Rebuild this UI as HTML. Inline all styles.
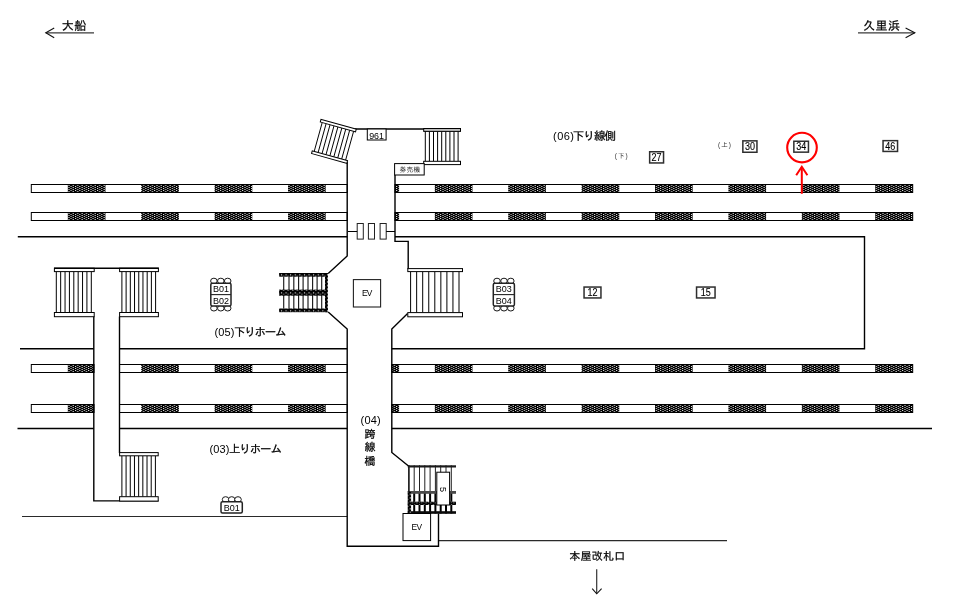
<!DOCTYPE html>
<html lang="ja">
<head>
<meta charset="utf-8">
<title>構内図</title>
<style>
html,body{margin:0;padding:0;background:#fff;}
body{width:960px;height:605px;overflow:hidden;font-family:"Liberation Sans", "IPAGothic", "Noto Sans CJK JP", sans-serif;}
svg{display:block;will-change:transform;}
svg text{font-family:"Liberation Sans", "IPAGothic", "Noto Sans CJK JP", sans-serif;}
</style>
</head>
<body>
<svg width="960" height="605" viewBox="0 0 960 605">
<defs>
<pattern id="dots" x="67.9" y="185" width="4.4" height="2" patternUnits="userSpaceOnUse">
<rect x="0" y="0" width="4.4" height="2" fill="#000"/>
<rect x="0.5" y="0" width="1.0" height="1" fill="#fff"/>
<rect x="2.7" y="1" width="1.0" height="1" fill="#fff"/>
</pattern>
<pattern id="dots2" x="279.1" y="273" width="4.6" height="3.6" patternUnits="userSpaceOnUse">
<rect x="0" y="0" width="4.6" height="3.6" fill="#000"/>
<rect x="1.8" y="1.2" width="1.1" height="1.1" fill="#fff"/>
<rect x="4.0" y="2.6" width="0.6" height="0.8" fill="#eee"/>
<rect x="0" y="2.6" width="0.4" height="0.8" fill="#eee"/>
</pattern>
</defs>
<rect x="0" y="0" width="960" height="605" fill="#fff"/>

<rect x="31.3" y="184.5" width="315.9" height="8.0" fill="#fff"/>
<rect x="67.8" y="184.5" width="37.7" height="8.0" fill="url(#dots)"/>
<rect x="141.2" y="184.5" width="37.7" height="8.0" fill="url(#dots)"/>
<rect x="214.6" y="184.5" width="37.7" height="8.0" fill="url(#dots)"/>
<rect x="288.0" y="184.5" width="37.7" height="8.0" fill="url(#dots)"/>
<rect x="31.3" y="184.5" width="315.9" height="8.0" fill="none" stroke="#000" stroke-width="1"/>
<rect x="395" y="184.5" width="517.7" height="8.0" fill="#fff"/>
<rect x="395" y="184.5" width="4.1" height="8.0" fill="url(#dots)"/>
<rect x="434.8" y="184.5" width="37.7" height="8.0" fill="url(#dots)"/>
<rect x="508.2" y="184.5" width="37.7" height="8.0" fill="url(#dots)"/>
<rect x="581.6" y="184.5" width="37.7" height="8.0" fill="url(#dots)"/>
<rect x="655.0" y="184.5" width="37.7" height="8.0" fill="url(#dots)"/>
<rect x="728.4" y="184.5" width="37.7" height="8.0" fill="url(#dots)"/>
<rect x="801.8" y="184.5" width="37.7" height="8.0" fill="url(#dots)"/>
<rect x="875.2" y="184.5" width="37.5" height="8.0" fill="url(#dots)"/>
<rect x="395" y="184.5" width="517.7" height="8.0" fill="none" stroke="#000" stroke-width="1"/>
<rect x="31.3" y="212.5" width="315.9" height="8.0" fill="#fff"/>
<rect x="67.8" y="212.5" width="37.7" height="8.0" fill="url(#dots)"/>
<rect x="141.2" y="212.5" width="37.7" height="8.0" fill="url(#dots)"/>
<rect x="214.6" y="212.5" width="37.7" height="8.0" fill="url(#dots)"/>
<rect x="288.0" y="212.5" width="37.7" height="8.0" fill="url(#dots)"/>
<rect x="31.3" y="212.5" width="315.9" height="8.0" fill="none" stroke="#000" stroke-width="1"/>
<rect x="395" y="212.5" width="517.7" height="8.0" fill="#fff"/>
<rect x="395" y="212.5" width="4.1" height="8.0" fill="url(#dots)"/>
<rect x="434.8" y="212.5" width="37.7" height="8.0" fill="url(#dots)"/>
<rect x="508.2" y="212.5" width="37.7" height="8.0" fill="url(#dots)"/>
<rect x="581.6" y="212.5" width="37.7" height="8.0" fill="url(#dots)"/>
<rect x="655.0" y="212.5" width="37.7" height="8.0" fill="url(#dots)"/>
<rect x="728.4" y="212.5" width="37.7" height="8.0" fill="url(#dots)"/>
<rect x="801.8" y="212.5" width="37.7" height="8.0" fill="url(#dots)"/>
<rect x="875.2" y="212.5" width="37.5" height="8.0" fill="url(#dots)"/>
<rect x="395" y="212.5" width="517.7" height="8.0" fill="none" stroke="#000" stroke-width="1"/>
<rect x="31.3" y="364.5" width="62.7" height="8.0" fill="#fff"/>
<rect x="67.8" y="364.5" width="26.2" height="8.0" fill="url(#dots)"/>
<rect x="31.3" y="364.5" width="62.7" height="8.0" fill="none" stroke="#000" stroke-width="1"/>
<rect x="119.5" y="364.5" width="227.7" height="8.0" fill="#fff"/>
<rect x="141.2" y="364.5" width="37.7" height="8.0" fill="url(#dots)"/>
<rect x="214.6" y="364.5" width="37.7" height="8.0" fill="url(#dots)"/>
<rect x="288.0" y="364.5" width="37.7" height="8.0" fill="url(#dots)"/>
<rect x="119.5" y="364.5" width="227.7" height="8.0" fill="none" stroke="#000" stroke-width="1"/>
<rect x="391.8" y="364.5" width="520.9" height="8.0" fill="#fff"/>
<rect x="391.8" y="364.5" width="7.3" height="8.0" fill="url(#dots)"/>
<rect x="434.8" y="364.5" width="37.7" height="8.0" fill="url(#dots)"/>
<rect x="508.2" y="364.5" width="37.7" height="8.0" fill="url(#dots)"/>
<rect x="581.6" y="364.5" width="37.7" height="8.0" fill="url(#dots)"/>
<rect x="655.0" y="364.5" width="37.7" height="8.0" fill="url(#dots)"/>
<rect x="728.4" y="364.5" width="37.7" height="8.0" fill="url(#dots)"/>
<rect x="801.8" y="364.5" width="37.7" height="8.0" fill="url(#dots)"/>
<rect x="875.2" y="364.5" width="37.5" height="8.0" fill="url(#dots)"/>
<rect x="391.8" y="364.5" width="520.9" height="8.0" fill="none" stroke="#000" stroke-width="1"/>
<rect x="31.3" y="404.5" width="62.7" height="8.0" fill="#fff"/>
<rect x="67.8" y="404.5" width="26.2" height="8.0" fill="url(#dots)"/>
<rect x="31.3" y="404.5" width="62.7" height="8.0" fill="none" stroke="#000" stroke-width="1"/>
<rect x="119.5" y="404.5" width="227.7" height="8.0" fill="#fff"/>
<rect x="141.2" y="404.5" width="37.7" height="8.0" fill="url(#dots)"/>
<rect x="214.6" y="404.5" width="37.7" height="8.0" fill="url(#dots)"/>
<rect x="288.0" y="404.5" width="37.7" height="8.0" fill="url(#dots)"/>
<rect x="119.5" y="404.5" width="227.7" height="8.0" fill="none" stroke="#000" stroke-width="1"/>
<rect x="391.8" y="404.5" width="520.9" height="8.0" fill="#fff"/>
<rect x="391.8" y="404.5" width="7.3" height="8.0" fill="url(#dots)"/>
<rect x="434.8" y="404.5" width="37.7" height="8.0" fill="url(#dots)"/>
<rect x="508.2" y="404.5" width="37.7" height="8.0" fill="url(#dots)"/>
<rect x="581.6" y="404.5" width="37.7" height="8.0" fill="url(#dots)"/>
<rect x="655.0" y="404.5" width="37.7" height="8.0" fill="url(#dots)"/>
<rect x="728.4" y="404.5" width="37.7" height="8.0" fill="url(#dots)"/>
<rect x="801.8" y="404.5" width="37.7" height="8.0" fill="url(#dots)"/>
<rect x="875.2" y="404.5" width="37.5" height="8.0" fill="url(#dots)"/>
<rect x="391.8" y="404.5" width="520.9" height="8.0" fill="none" stroke="#000" stroke-width="1"/>
<line x1="17.8" y1="236.7" x2="347.2" y2="236.7" stroke="#000" stroke-width="1.4" />
<polyline points="395,236.7 864.5,236.7 864.5,348.7 391.8,348.7" fill="none" stroke="#000" stroke-width="1.4" stroke-linejoin="miter" />
<line x1="20" y1="348.7" x2="93.8" y2="348.7" stroke="#000" stroke-width="1.4" />
<line x1="119.5" y1="348.7" x2="347.2" y2="348.7" stroke="#000" stroke-width="1.4" />
<line x1="17.5" y1="428.5" x2="93.8" y2="428.5" stroke="#000" stroke-width="1.4" />
<line x1="119.5" y1="428.5" x2="347.2" y2="428.5" stroke="#000" stroke-width="1.4" />
<line x1="391.8" y1="428.5" x2="932" y2="428.5" stroke="#000" stroke-width="1.4" />
<line x1="22" y1="516.5" x2="347.2" y2="516.5" stroke="#2a2a2a" stroke-width="1.15" />
<line x1="438.5" y1="540.6" x2="727" y2="540.6" stroke="#2a2a2a" stroke-width="1.15" />
<polyline points="93.8,316.5 93.8,500.9 158.5,500.9" fill="none" stroke="#000" stroke-width="1.4" stroke-linejoin="miter" />
<line x1="119.5" y1="316.5" x2="119.5" y2="453" stroke="#000" stroke-width="1.4" />
<line x1="56.3" y1="271.59999999999997" x2="56.3" y2="312.5" stroke="#000" stroke-width="1.0" />
<line x1="60.67" y1="271.59999999999997" x2="60.67" y2="312.5" stroke="#000" stroke-width="1.0" />
<line x1="65.05" y1="271.59999999999997" x2="65.05" y2="312.5" stroke="#000" stroke-width="1.0" />
<line x1="69.42" y1="271.59999999999997" x2="69.42" y2="312.5" stroke="#000" stroke-width="1.0" />
<line x1="73.8" y1="271.59999999999997" x2="73.8" y2="312.5" stroke="#000" stroke-width="1.0" />
<line x1="78.17" y1="271.59999999999997" x2="78.17" y2="312.5" stroke="#000" stroke-width="1.0" />
<line x1="82.55" y1="271.59999999999997" x2="82.55" y2="312.5" stroke="#000" stroke-width="1.0" />
<line x1="86.92" y1="271.59999999999997" x2="86.92" y2="312.5" stroke="#000" stroke-width="1.0" />
<line x1="91.3" y1="271.59999999999997" x2="91.3" y2="312.5" stroke="#000" stroke-width="1.0" />
<rect x="54.4" y="268.2" width="39.800000000000004" height="3.4" fill="#fff" stroke="#000" stroke-width="1.0" />
<rect x="54.4" y="312.5" width="39.800000000000004" height="4.2" fill="#fff" stroke="#000" stroke-width="1.0" />
<line x1="121.9" y1="271.59999999999997" x2="121.9" y2="312.5" stroke="#000" stroke-width="1.0" />
<line x1="126.11" y1="271.59999999999997" x2="126.11" y2="312.5" stroke="#000" stroke-width="1.0" />
<line x1="130.32" y1="271.59999999999997" x2="130.32" y2="312.5" stroke="#000" stroke-width="1.0" />
<line x1="134.54" y1="271.59999999999997" x2="134.54" y2="312.5" stroke="#000" stroke-width="1.0" />
<line x1="138.75" y1="271.59999999999997" x2="138.75" y2="312.5" stroke="#000" stroke-width="1.0" />
<line x1="142.96" y1="271.59999999999997" x2="142.96" y2="312.5" stroke="#000" stroke-width="1.0" />
<line x1="147.18" y1="271.59999999999997" x2="147.18" y2="312.5" stroke="#000" stroke-width="1.0" />
<line x1="151.39" y1="271.59999999999997" x2="151.39" y2="312.5" stroke="#000" stroke-width="1.0" />
<line x1="155.6" y1="271.59999999999997" x2="155.6" y2="312.5" stroke="#000" stroke-width="1.0" />
<rect x="119.6" y="268.2" width="38.80000000000001" height="3.4" fill="#fff" stroke="#000" stroke-width="1.0" />
<rect x="119.6" y="312.5" width="38.80000000000001" height="4.2" fill="#fff" stroke="#000" stroke-width="1.0" />
<line x1="54" y1="268.3" x2="158.8" y2="268.3" stroke="#000" stroke-width="1.5" />
<line x1="121.9" y1="455.8" x2="121.9" y2="496.70000000000005" stroke="#000" stroke-width="1.0" />
<line x1="126.09" y1="455.8" x2="126.09" y2="496.70000000000005" stroke="#000" stroke-width="1.0" />
<line x1="130.28" y1="455.8" x2="130.28" y2="496.70000000000005" stroke="#000" stroke-width="1.0" />
<line x1="134.46" y1="455.8" x2="134.46" y2="496.70000000000005" stroke="#000" stroke-width="1.0" />
<line x1="138.65" y1="455.8" x2="138.65" y2="496.70000000000005" stroke="#000" stroke-width="1.0" />
<line x1="142.84" y1="455.8" x2="142.84" y2="496.70000000000005" stroke="#000" stroke-width="1.0" />
<line x1="147.03" y1="455.8" x2="147.03" y2="496.70000000000005" stroke="#000" stroke-width="1.0" />
<line x1="151.21" y1="455.8" x2="151.21" y2="496.70000000000005" stroke="#000" stroke-width="1.0" />
<line x1="155.4" y1="455.8" x2="155.4" y2="496.70000000000005" stroke="#000" stroke-width="1.0" />
<rect x="119.6" y="452.6" width="38.599999999999994" height="3.2" fill="#fff" stroke="#000" stroke-width="1.0" />
<rect x="119.6" y="496.70000000000005" width="38.599999999999994" height="4.4" fill="#fff" stroke="#000" stroke-width="1.0" />
<line x1="355" y1="129" x2="424" y2="129" stroke="#000" stroke-width="1.4" />
<polyline points="347.2,161.5 347.2,256 328.2,273.5" fill="none" stroke="#000" stroke-width="1.4" stroke-linejoin="miter" />
<polyline points="328.2,312 347.2,329 347.2,546.2 438.5,546.2 438.5,513.4" fill="none" stroke="#000" stroke-width="1.4" stroke-linejoin="miter" />
<polyline points="395,175 395,241.4 408.2,241.4 408.2,269" fill="none" stroke="#000" stroke-width="1.4" stroke-linejoin="miter" />
<polyline points="407.6,313.5 391.8,329 391.8,452.5 408.5,466" fill="none" stroke="#000" stroke-width="1.4" stroke-linejoin="miter" />
<rect x="357.2" y="223.5" width="6.1" height="15.6" fill="#fff" stroke="#222" stroke-width="1.0" />
<rect x="368.4" y="223.5" width="6.1" height="15.6" fill="#fff" stroke="#222" stroke-width="1.0" />
<rect x="380.1" y="223.5" width="6.1" height="15.6" fill="#fff" stroke="#222" stroke-width="1.0" />
<line x1="348" y1="231.5" x2="357.2" y2="231.5" stroke="#000" stroke-width="1.0" />
<line x1="386.2" y1="231.5" x2="395" y2="231.5" stroke="#000" stroke-width="1.0" />
<line x1="425.3" y1="131.4" x2="425.3" y2="161.29999999999998" stroke="#000" stroke-width="1.0" />
<line x1="429.4" y1="131.4" x2="429.4" y2="161.29999999999998" stroke="#000" stroke-width="1.0" />
<line x1="433.5" y1="131.4" x2="433.5" y2="161.29999999999998" stroke="#000" stroke-width="1.0" />
<line x1="437.6" y1="131.4" x2="437.6" y2="161.29999999999998" stroke="#000" stroke-width="1.0" />
<line x1="441.7" y1="131.4" x2="441.7" y2="161.29999999999998" stroke="#000" stroke-width="1.0" />
<line x1="445.8" y1="131.4" x2="445.8" y2="161.29999999999998" stroke="#000" stroke-width="1.0" />
<line x1="449.9" y1="131.4" x2="449.9" y2="161.29999999999998" stroke="#000" stroke-width="1.0" />
<line x1="454.0" y1="131.4" x2="454.0" y2="161.29999999999998" stroke="#000" stroke-width="1.0" />
<line x1="458.1" y1="131.4" x2="458.1" y2="161.29999999999998" stroke="#000" stroke-width="1.0" />
<rect x="423.7" y="128.5" width="36.80000000000001" height="2.9" fill="#bdbdbd" stroke="#000" stroke-width="1.0" />
<rect x="423.7" y="161.29999999999998" width="36.80000000000001" height="3.3" fill="#fff" stroke="#000" stroke-width="1.0" />
<g transform="rotate(15.5 321 119.4)">
<line x1="323.0" y1="122.10000000000001" x2="323.0" y2="152.10000000000002" stroke="#000" stroke-width="0.9" />
<line x1="327.07" y1="122.10000000000001" x2="327.07" y2="152.10000000000002" stroke="#000" stroke-width="0.9" />
<line x1="331.15" y1="122.10000000000001" x2="331.15" y2="152.10000000000002" stroke="#000" stroke-width="0.9" />
<line x1="335.23" y1="122.10000000000001" x2="335.23" y2="152.10000000000002" stroke="#000" stroke-width="0.9" />
<line x1="339.3" y1="122.10000000000001" x2="339.3" y2="152.10000000000002" stroke="#000" stroke-width="0.9" />
<line x1="343.38" y1="122.10000000000001" x2="343.38" y2="152.10000000000002" stroke="#000" stroke-width="0.9" />
<line x1="347.45" y1="122.10000000000001" x2="347.45" y2="152.10000000000002" stroke="#000" stroke-width="0.9" />
<line x1="351.53" y1="122.10000000000001" x2="351.53" y2="152.10000000000002" stroke="#000" stroke-width="0.9" />
<line x1="355.6" y1="122.10000000000001" x2="355.6" y2="152.10000000000002" stroke="#000" stroke-width="0.9" />
<rect x="321" y="119.4" width="36.60000000000002" height="2.7" fill="#fff" stroke="#000" stroke-width="1.0" />
<rect x="321" y="152.10000000000002" width="36.60000000000002" height="2.7" fill="#fff" stroke="#000" stroke-width="1.0" />
</g>
<rect x="367.3" y="129" width="18.8" height="11" fill="#fff" stroke="#000" stroke-width="1.0" />
<text x="369.2" y="138.6" font-size="9.8" textLength="14.8" lengthAdjust="spacingAndGlyphs">961</text>
<rect x="394.6" y="163.6" width="29.6" height="11.4" fill="#fff" stroke="#000" stroke-width="1.0" />
<text x="399.5" y="171.9" font-size="6.7" text-anchor="start" fill="#222" textLength="20.8" lengthAdjust="spacing" >券売機</text>
<line x1="410.6" y1="271.6" x2="410.6" y2="312.6" stroke="#000" stroke-width="1.0" />
<line x1="416.65" y1="271.6" x2="416.65" y2="312.6" stroke="#000" stroke-width="1.0" />
<line x1="422.7" y1="271.6" x2="422.7" y2="312.6" stroke="#000" stroke-width="1.0" />
<line x1="428.75" y1="271.6" x2="428.75" y2="312.6" stroke="#000" stroke-width="1.0" />
<line x1="434.8" y1="271.6" x2="434.8" y2="312.6" stroke="#000" stroke-width="1.0" />
<line x1="440.85" y1="271.6" x2="440.85" y2="312.6" stroke="#000" stroke-width="1.0" />
<line x1="446.9" y1="271.6" x2="446.9" y2="312.6" stroke="#000" stroke-width="1.0" />
<line x1="452.95" y1="271.6" x2="452.95" y2="312.6" stroke="#000" stroke-width="1.0" />
<line x1="459.0" y1="271.6" x2="459.0" y2="312.6" stroke="#000" stroke-width="1.0" />
<rect x="407.8" y="268.6" width="54.69999999999999" height="3.0" fill="#fff" stroke="#000" stroke-width="1.0" />
<rect x="407.8" y="312.6" width="54.69999999999999" height="4.2" fill="#fff" stroke="#000" stroke-width="1.0" />
<rect x="353.4" y="279.6" width="27.2" height="27.4" fill="#fff" stroke="#222" stroke-width="1.1" />
<text x="361.9" y="295.9" font-size="8.4" text-anchor="start" fill="#000" textLength="10.4" lengthAdjust="spacing" >EV</text>
<line x1="283.7" y1="276" x2="283.7" y2="309.2" stroke="#1a1a1a" stroke-width="1.15" />
<line x1="289" y1="276" x2="289" y2="309.2" stroke="#1a1a1a" stroke-width="1.15" />
<line x1="293.8" y1="276" x2="293.8" y2="309.2" stroke="#1a1a1a" stroke-width="1.15" />
<line x1="298.6" y1="276" x2="298.6" y2="309.2" stroke="#1a1a1a" stroke-width="1.15" />
<line x1="303.1" y1="276" x2="303.1" y2="309.2" stroke="#1a1a1a" stroke-width="1.15" />
<line x1="308" y1="276" x2="308" y2="309.2" stroke="#1a1a1a" stroke-width="1.15" />
<line x1="312.6" y1="276" x2="312.6" y2="309.2" stroke="#1a1a1a" stroke-width="1.15" />
<line x1="317.1" y1="276" x2="317.1" y2="309.2" stroke="#1a1a1a" stroke-width="1.15" />
<line x1="321.7" y1="276" x2="321.7" y2="309.2" stroke="#1a1a1a" stroke-width="1.15" />
<rect x="279.1" y="273" width="48.8" height="3.7" fill="url(#dots2)"/>
<rect x="279.1" y="289.6" width="46.8" height="6.1" fill="url(#dots2)"/>
<rect x="279.1" y="308.5" width="48.8" height="3.7" fill="url(#dots2)"/>
<rect x="325" y="273" width="2.9" height="39.2" fill="url(#dots2)"/>
<line x1="408.9" y1="465.3" x2="408.9" y2="491" stroke="#000" stroke-width="1.5" />
<line x1="408.9" y1="491" x2="408.9" y2="513.5" stroke="#000" stroke-width="2.0" />
<line x1="414.2" y1="465.3" x2="414.2" y2="491" stroke="#222" stroke-width="1.0" />
<line x1="414.2" y1="491" x2="414.2" y2="513.5" stroke="#000" stroke-width="2.0" />
<line x1="419.5" y1="465.3" x2="419.5" y2="491" stroke="#222" stroke-width="1.0" />
<line x1="419.5" y1="491" x2="419.5" y2="513.5" stroke="#000" stroke-width="2.0" />
<line x1="424.8" y1="465.3" x2="424.8" y2="491" stroke="#222" stroke-width="1.0" />
<line x1="424.8" y1="491" x2="424.8" y2="513.5" stroke="#000" stroke-width="2.0" />
<line x1="430.1" y1="465.3" x2="430.1" y2="491" stroke="#222" stroke-width="1.0" />
<line x1="430.1" y1="491" x2="430.1" y2="513.5" stroke="#000" stroke-width="2.0" />
<line x1="435.4" y1="465.3" x2="435.4" y2="491" stroke="#222" stroke-width="1.0" />
<line x1="435.4" y1="491" x2="435.4" y2="513.5" stroke="#000" stroke-width="2.0" />
<line x1="440.7" y1="465.3" x2="440.7" y2="491" stroke="#222" stroke-width="1.0" />
<line x1="440.7" y1="491" x2="440.7" y2="513.5" stroke="#000" stroke-width="2.0" />
<line x1="446.0" y1="465.3" x2="446.0" y2="491" stroke="#222" stroke-width="1.0" />
<line x1="446.0" y1="491" x2="446.0" y2="513.5" stroke="#000" stroke-width="2.0" />
<line x1="451.3" y1="465.3" x2="451.3" y2="491" stroke="#222" stroke-width="1.0" />
<line x1="451.3" y1="491" x2="451.3" y2="513.5" stroke="#000" stroke-width="2.0" />
<rect x="407.8" y="465.3" width="48.2" height="2.2" fill="#1a1a1a"/>
<rect x="407.8" y="491" width="48.2" height="2.8" fill="#4a4a4a"/>
<rect x="407.8" y="501.7" width="48.2" height="3.3" fill="url(#dots2)"/>
<rect x="407.8" y="511.2" width="48.2" height="2.6" fill="#0a0a0a"/>
<rect x="407.8" y="491" width="3.3" height="22.5" fill="url(#dots2)"/>
<rect x="436.8" y="472.2" width="12.8" height="32.8" fill="#fff" stroke="#000" stroke-width="1.0" />
<text x="0" y="0" font-size="9" text-anchor="middle" transform="translate(440.1 489.6) rotate(90)">5</text>
<rect x="403" y="513.5" width="27.6" height="27.1" fill="#fff" stroke="#000" stroke-width="1.0" />
<text x="411.6" y="529.9" font-size="8.4" text-anchor="start" fill="#000" textLength="10.4" lengthAdjust="spacing" >EV</text>
<rect x="649.65" y="151.75" width="13.9" height="11.2" fill="#fff" stroke="#2e2e2e" stroke-width="1.5" />
<text x="651.6" y="160.93" font-size="10" textLength="10.0" lengthAdjust="spacingAndGlyphs" stroke="#000" stroke-width="0.12">27</text>
<rect x="742.85" y="140.85" width="14.1" height="11.4" fill="#fff" stroke="#2e2e2e" stroke-width="1.5" />
<text x="744.9" y="150.13" font-size="10" textLength="10.0" lengthAdjust="spacingAndGlyphs" stroke="#000" stroke-width="0.12">30</text>
<rect x="793.85" y="141.25" width="14.6" height="10.9" fill="#fff" stroke="#2e2e2e" stroke-width="1.5" />
<text x="796.15" y="150.28" font-size="10" textLength="10.0" lengthAdjust="spacingAndGlyphs" stroke="#000" stroke-width="0.12">34</text>
<rect x="883.05" y="140.65" width="14.5" height="10.8" fill="#fff" stroke="#2e2e2e" stroke-width="1.5" />
<text x="885.3" y="149.63" font-size="10" textLength="10.0" lengthAdjust="spacingAndGlyphs" stroke="#000" stroke-width="0.12">46</text>
<rect x="584.05" y="287.05" width="16.9" height="10.9" fill="#fff" stroke="#2e2e2e" stroke-width="1.5" />
<text x="587.5" y="296.08" font-size="10" textLength="10.0" lengthAdjust="spacingAndGlyphs" stroke="#000" stroke-width="0.12">12</text>
<rect x="696.55" y="287.05" width="18.5" height="10.9" fill="#fff" stroke="#2e2e2e" stroke-width="1.5" />
<text x="700.8" y="296.08" font-size="10" textLength="10.0" lengthAdjust="spacingAndGlyphs" stroke="#000" stroke-width="0.12">15</text>
<ellipse cx="213.9" cy="281.0" rx="3.3" ry="2.8" fill="#fff" stroke="#1a1a1a" stroke-width="1"/>
<ellipse cx="220.8" cy="281.0" rx="3.3" ry="2.8" fill="#fff" stroke="#1a1a1a" stroke-width="1"/>
<ellipse cx="227.7" cy="281.0" rx="3.3" ry="2.8" fill="#fff" stroke="#1a1a1a" stroke-width="1"/>
<ellipse cx="213.9" cy="308.2" rx="3.3" ry="2.8" fill="#fff" stroke="#1a1a1a" stroke-width="1"/>
<ellipse cx="220.8" cy="308.2" rx="3.3" ry="2.8" fill="#fff" stroke="#1a1a1a" stroke-width="1"/>
<ellipse cx="227.7" cy="308.2" rx="3.3" ry="2.8" fill="#fff" stroke="#1a1a1a" stroke-width="1"/>
<rect x="210.8" y="283.3" width="20.19999999999999" height="22.600000000000023" rx="1.5" fill="#fff" stroke="#222" stroke-width="1.5"/>
<text x="220.9" y="292.2" font-size="9" text-anchor="middle" fill="#000" >B01</text>
<line x1="210.8" y1="294.6" x2="231" y2="294.6" stroke="#222" stroke-width="1.1" />
<text x="220.9" y="303.5" font-size="9" text-anchor="middle" fill="#000" >B02</text>
<ellipse cx="497" cy="281.0" rx="3.3" ry="2.8" fill="#fff" stroke="#1a1a1a" stroke-width="1"/>
<ellipse cx="504" cy="281.0" rx="3.3" ry="2.8" fill="#fff" stroke="#1a1a1a" stroke-width="1"/>
<ellipse cx="510.8" cy="281.0" rx="3.3" ry="2.8" fill="#fff" stroke="#1a1a1a" stroke-width="1"/>
<ellipse cx="497" cy="308.2" rx="3.3" ry="2.8" fill="#fff" stroke="#1a1a1a" stroke-width="1"/>
<ellipse cx="504" cy="308.2" rx="3.3" ry="2.8" fill="#fff" stroke="#1a1a1a" stroke-width="1"/>
<ellipse cx="510.8" cy="308.2" rx="3.3" ry="2.8" fill="#fff" stroke="#1a1a1a" stroke-width="1"/>
<rect x="493.3" y="283.3" width="21.099999999999966" height="22.600000000000023" rx="1.5" fill="#fff" stroke="#222" stroke-width="1.5"/>
<text x="503.85" y="292.2" font-size="9" text-anchor="middle" fill="#000" >B03</text>
<line x1="493.3" y1="294.6" x2="514.4" y2="294.6" stroke="#222" stroke-width="1.1" />
<text x="503.85" y="303.5" font-size="9" text-anchor="middle" fill="#000" >B04</text>
<ellipse cx="225.6" cy="499.5" rx="3.3" ry="2.8" fill="#fff" stroke="#1a1a1a" stroke-width="1"/>
<ellipse cx="231.7" cy="499.5" rx="3.3" ry="2.8" fill="#fff" stroke="#1a1a1a" stroke-width="1"/>
<ellipse cx="238" cy="499.5" rx="3.3" ry="2.8" fill="#fff" stroke="#1a1a1a" stroke-width="1"/>
<rect x="221" y="501.8" width="21.30000000000001" height="11.300000000000011" rx="1.5" fill="#fff" stroke="#222" stroke-width="1.5"/>
<text x="231.65" y="510.7" font-size="9" text-anchor="middle" fill="#000" >B01</text>
<text x="214.4" y="336.3" font-size="11" text-anchor="start" fill="#000" textLength="19.9" lengthAdjust="spacing" >(05)</text>
<text x="233.9" y="336.0" font-size="11.5" text-anchor="start" fill="#000" textLength="52.5" lengthAdjust="spacing" stroke="#000" stroke-width="0.24">下りホーム</text>
<text x="209.6" y="453.1" font-size="11" text-anchor="start" fill="#000" textLength="19.7" lengthAdjust="spacing" >(03)</text>
<text x="228.9" y="452.8" font-size="11.5" text-anchor="start" fill="#000" textLength="53.1" lengthAdjust="spacing" stroke="#000" stroke-width="0.24">上りホーム</text>
<text x="553" y="139.8" font-size="11" text-anchor="start" fill="#000" textLength="21" lengthAdjust="spacing" >(06)</text>
<text x="572.8" y="139.5" font-size="11.5" text-anchor="start" fill="#000" textLength="43.2" lengthAdjust="spacing" stroke="#000" stroke-width="0.24">下り線側</text>
<text x="614.8" y="157.9" font-size="6.5" text-anchor="start" fill="#333" textLength="12.8" lengthAdjust="spacing" >(下)</text>
<text x="718" y="147.3" font-size="6.5" text-anchor="start" fill="#333" textLength="12.8" lengthAdjust="spacing" >(上)</text>
<text x="360.6" y="423.7" font-size="11" text-anchor="start" fill="#000" textLength="20" lengthAdjust="spacing" >(04)</text>
<text x="370" y="437.7" font-size="11" text-anchor="middle" fill="#000" stroke="#000" stroke-width="0.24">跨</text>
<text x="370" y="451.3" font-size="11" text-anchor="middle" fill="#000" stroke="#000" stroke-width="0.24">線</text>
<text x="370" y="464.9" font-size="11" text-anchor="middle" fill="#000" stroke="#000" stroke-width="0.24">橋</text>
<text x="569.3" y="559.9" font-size="11" text-anchor="start" fill="#000" textLength="56" lengthAdjust="spacing" stroke="#000" stroke-width="0.24">本屋改札口</text>
<text x="61.8" y="29.9" font-size="12" text-anchor="start" fill="#000" textLength="24.4" lengthAdjust="spacing" stroke="#000" stroke-width="0.24">大船</text>
<text x="863" y="29.9" font-size="12" text-anchor="start" fill="#000" textLength="37" lengthAdjust="spacing" stroke="#000" stroke-width="0.24">久里浜</text>
<line x1="45.8" y1="32.8" x2="94" y2="32.8" stroke="#3a3a3a" stroke-width="1.3" />
<polyline points="54.2,28 45.8,32.8 54.2,37.7" fill="none" stroke="#111" stroke-width="1.1" stroke-linejoin="miter" />
<line x1="858" y1="32.8" x2="914.8" y2="32.8" stroke="#3a3a3a" stroke-width="1.3" />
<polyline points="905.6,28 914.8,32.8 905.6,37.7" fill="none" stroke="#111" stroke-width="1.1" stroke-linejoin="miter" />
<line x1="596.7" y1="569.2" x2="596.7" y2="593.6" stroke="#333" stroke-width="1.2" />
<polyline points="592.2,588.6 596.7,593.8 601.6,588.6" fill="none" stroke="#111" stroke-width="1.1" stroke-linejoin="miter" />
<circle cx="802" cy="147.6" r="14.8" fill="none" stroke="#ff0000" stroke-width="2.1"/>
<line x1="801.8" y1="167" x2="801.8" y2="193.8" stroke="#ff0000" stroke-width="2" />
<polyline points="796.2,175.2 801.8,166.8 807.4,175.2" fill="none" stroke="#ff0000" stroke-width="2" stroke-linejoin="miter" />
</svg>
</body>
</html>
